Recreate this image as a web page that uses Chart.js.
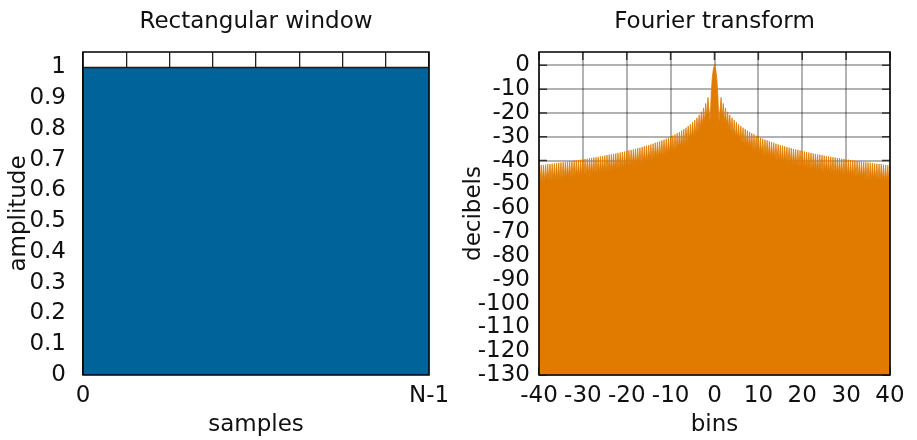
<!DOCTYPE html>
<html>
<head>
<meta charset="utf-8">
<script src="https://cdn.jsdelivr.net/npm/chart.js@4"></script>
<style>
  body { margin: 0; background: #fff; }
  #wrap { position: relative; width: 917px; height: 440px; }
  canvas { position: absolute; top: 0; }
</style>
</head>
<body>
<div id="wrap">
  <canvas id="windowChart" width="460" height="440" style="left:0"></canvas>
  <canvas id="fftChart" width="457" height="440" style="left:460px"></canvas>
</div>
<script>
/* ----- dati ----- */
const sampleIdx = [0, 1, 2, 3, 4, 5, 6, 7, 8];
const amplitude = [1, 1, 1, 1, 1, 1, 1, 1, 1];
const sampleTickLabels = ["0", "", "", "", "", "", "", "", "N-1"];

// spettro (dB) per i bin positivi 0..40, passo 0.25 (simmetrico)
const binStep = 0.25;
const spectrumDbPos = [
  0, -1.5, -5, -12,
  -24, -19, -13.5, -22,
  -16.0, -24, -17.9, -25.5,
  -19.5, -27, -20.8, -28,
  -22.0, -29.5, -23.0, -30.5,
  -23.9, -31, -24.8, -32,
  -25.5, -32.5, -26.2, -33.5,
  -26.8, -34, -27.4, -34.5,
  -28.0, -35, -28.5, -35.5,
  -29.0, -36, -29.5, -36.5,
  -30.0, -37, -30.4, -37.5,
  -30.8, -38, -31.2, -38,
  -31.5, -38.5, -31.9, -39,
  -32.2, -39, -32.5, -39.5,
  -32.9, -40, -33.2, -40,
  -33.5, -40.5, -33.7, -41,
  -34.0, -41, -34.3, -41.5,
  -34.6, -41.5, -34.8, -42,
  -35.1, -42, -35.3, -42.5,
  -35.5, -42.5, -35.7, -43,
  -36.0, -43, -36.2, -43.5,
  -36.4, -43.5, -36.6, -43.5,
  -36.8, -44, -37.0, -44,
  -37.2, -44.5, -37.4, -44.5,
  -37.5, -44.5, -37.7, -45,
  -37.9, -45, -38.1, -45,
  -38.2, -45.5, -38.4, -45.5,
  -38.6, -45.5, -38.7, -46,
  -38.9, -46, -39.0, -46,
  -39.2, -46.5, -39.3, -46.5,
  -39.5, -46.5, -39.6, -47,
  -39.8, -47, -39.9, -47,
  -40.0, -47, -40.2, -47.5,
  -40.3, -47.5, -40.4, -47.5,
  -40.6, -47.5, -40.7, -48,
  -40.8, -48, -40.9, -48,
  -41.1, -48, -41.2, -48.5,
  -41.3, -48.5, -41.4, -48.5,
  -41.5, -48.5, -41.7, -49,
  -41.8, -49, -41.9, -49,
  -42.0
];
const decibels = spectrumDbPos.slice(1).reverse().concat(spectrumDbPos);
const bins = decibels.map((_, i) => (i - (spectrumDbPos.length - 1)) * binStep);

/* ----- stile ----- */
const FONT = "'DejaVu Sans', sans-serif";
const FS = 23;
const TEXT = "#111";

const framePlugin = {
  id: "frame",
  afterDraw(chart) {
    const { ctx, chartArea: a } = chart;
    ctx.save();
    ctx.strokeStyle = "#000";
    ctx.lineWidth = 1.5;
    ctx.strokeRect(a.left, a.top, a.right - a.left, a.bottom - a.top);
    ctx.fillStyle = TEXT;
    ctx.font = `${FS}px ${FONT}`;
    ctx.textAlign = "center";
    ctx.textBaseline = "alphabetic";
    ctx.fillText(chart.options.plugins.frame.title, (a.left + a.right) / 2, 28);
    ctx.restore();
  },
};

// tacche interne (dietro al riempimento)
const innerTicks = {
  id: "innerTicks",
  beforeDatasetsDraw(chart, args, opts) {
    if (!opts.show) return;
    const { ctx, chartArea: a, scales } = chart;
    const len = 8;
    ctx.save();
    ctx.strokeStyle = "#333";
    ctx.lineWidth = 1.5;
    ctx.beginPath();
    scales.y.ticks.forEach((t) => {
      const y = scales.y.getPixelForValue(t.value);
      ctx.moveTo(a.left, y); ctx.lineTo(a.left + len, y);
      ctx.moveTo(a.right, y); ctx.lineTo(a.right - len, y);
    });
    scales.x.ticks.forEach((t) => {
      const x = scales.x.getPixelForValue(t.value);
      ctx.moveTo(x, a.top); ctx.lineTo(x, a.top + len);
      ctx.moveTo(x, a.bottom); ctx.lineTo(x, a.bottom - len);
    });
    ctx.stroke();
    ctx.restore();
  },
};

function axisTitle(text, pad) {
  return { display: true, text, color: TEXT, font: { family: FONT, size: FS }, padding: { top: pad, bottom: 1 } };
}
function tickFont() {
  return { family: FONT, size: FS };
}

/* ----- finestra rettangolare ----- */
new Chart("windowChart", {
  type: "line",
  data: {
    datasets: [
      {
        data: sampleIdx.map((x, i) => ({ x, y: amplitude[i] })),
        fill: "start",
        backgroundColor: "#006399",
        borderColor: "#1b1b1b",
        borderWidth: 1.5,
        pointRadius: 0,
      },
    ],
  },
  options: {
    responsive: false,
    animation: false,
    layout: { padding: { top: 52, right: 31, left: 0, bottom: 0 } },
    plugins: { legend: { display: false }, tooltip: { enabled: false }, frame: { title: "Rectangular window" }, innerTicks: { show: false } },
    scales: {
      x: {
        type: "linear",
        min: 0,
        max: 8,
        afterFit: (s) => { s.height = 65; },
        grid: { color: "#222", lineWidth: 1.3, drawTicks: false },
        border: { display: false },
        ticks: { stepSize: 1, autoSkip: false, maxRotation: 0, padding: 7, color: TEXT, font: tickFont(),
          callback: (v) => sampleTickLabels[v] ?? "" },
        title: axisTitle("samples", 0),
      },
      y: {
        min: 0,
        max: 1.05,
        afterFit: (s) => { s.width = 83; },
        grid: { display: false },
        border: { display: false },
        ticks: { stepSize: 0.1, autoSkip: false, includeBounds: false, padding: 9, color: TEXT, font: tickFont(),
          callback: (v) => String(+v.toFixed(1)) },
        title: axisTitle("amplitude", 5),
      },
    },
  },
  plugins: [framePlugin, innerTicks],
});

/* ----- trasformata ----- */
new Chart("fftChart", {
  type: "line",
  data: {
    datasets: [
      {
        data: bins.map((x, i) => ({ x, y: decibels[i] })),
        fill: "start",
        backgroundColor: "#e07b00",
        borderColor: "#e07b00",
        borderWidth: 0.8,
        pointRadius: 0,
      },
    ],
  },
  options: {
    responsive: false,
    animation: false,
    layout: { padding: { top: 52, right: 27, left: 0, bottom: 0 } },
    plugins: { legend: { display: false }, tooltip: { enabled: false }, frame: { title: "Fourier transform" }, innerTicks: { show: true } },
    scales: {
      x: {
        type: "linear",
        min: -40,
        max: 40,
        afterFit: (s) => { s.height = 65; },
        grid: { color: "rgba(0,0,0,0.3)", lineWidth: 2, drawTicks: false },
        border: { display: false },
        ticks: { stepSize: 10, autoSkip: false, maxRotation: 0, padding: 7, color: TEXT, font: tickFont() },
        title: axisTitle("bins", 0),
      },
      y: {
        min: -130,
        max: 5.6,
        afterFit: (s) => { s.width = 79; },
        grid: { color: "rgba(0,0,0,0.3)", lineWidth: 2, drawTicks: false },
        border: { display: false },
        ticks: { stepSize: 10, autoSkip: false, includeBounds: false, padding: 9, color: TEXT, font: tickFont() },
        title: axisTitle("decibels", 0),
      },
    },
  },
  plugins: [framePlugin, innerTicks],
});
</script>
</body>
</html>
